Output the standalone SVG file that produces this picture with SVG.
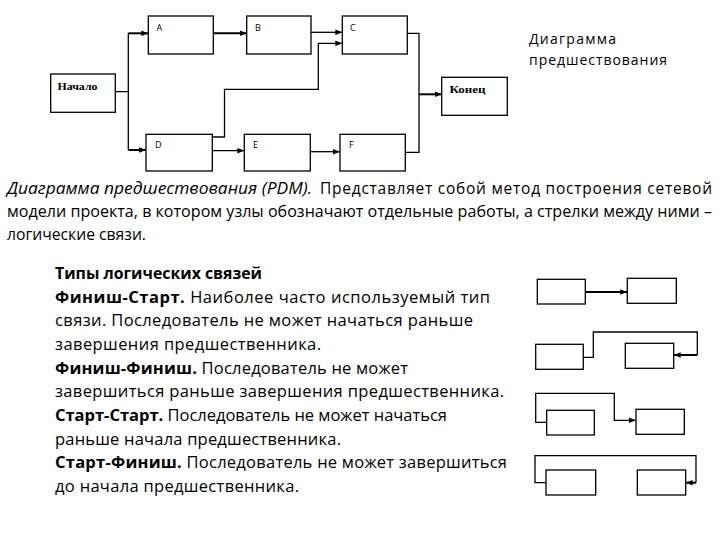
<svg xmlns="http://www.w3.org/2000/svg" width="720" height="540" viewBox="0 0 720 540">
<defs>
<style>
.box{fill:#fff;stroke:#000;stroke-width:1.3}
.ln{fill:none;stroke:#000;stroke-width:1.3}
.thk{fill:none;stroke:#000;stroke-width:2}
.lbl{font-family:"Open Sans","DejaVu Sans",sans-serif;font-size:9px;fill:#000}
.ser{font-family:"Liberation Serif","Times New Roman",serif;font-weight:bold;font-size:11px;fill:#000}
.par{font-family:"Open Sans","Liberation Sans",sans-serif;font-size:15.5px;fill:#000}
.bt{font-family:"Open Sans","Liberation Sans",sans-serif;font-size:16.5px;fill:#000}
.b{font-weight:bold}
.ttl{font-family:"Open Sans","Liberation Sans",sans-serif;font-size:14px;fill:#000}
</style>
<marker id="arr" viewBox="0 0 10 10" refX="10" refY="5" markerWidth="7" markerHeight="7" markerUnits="userSpaceOnUse" orient="auto">
<path d="M0,1 L10,5 L0,9 z" fill="#000"/>
</marker>
</defs>

<g id="connectors">
<path class="ln" d="M115.3,91.7 H128.3 M128.3,33.3 V150"/>
<path class="thk" d="M128.3,33.3 H148.3" marker-end="url(#arr)"/>
<path class="thk" d="M128.3,150 H146" marker-end="url(#arr)"/>
<path class="thk" d="M213.3,33.3 H246.7" marker-end="url(#arr)"/>
<path class="ln" d="M311,32.3 H342.3" marker-end="url(#arr)"/>
<path class="ln" d="M212.3,137 H224.5 V89.3 H318.3 V43.3 H342.3" marker-end="url(#arr)"/>
<path class="ln" d="M212.3,150.7 H244.3" marker-end="url(#arr)"/>
<path class="ln" d="M310.3,151.7 H340" marker-end="url(#arr)"/>
<path class="ln" d="M407.3,33.3 H419 V152.3 H405.3"/>
<path class="thk" d="M419,94.3 H441.7" marker-end="url(#arr)"/>

<path class="thk" d="M585.3,292 H627.3" marker-end="url(#arr)"/>
<path class="ln" d="M583.3,357.3 H593.3 V332 H697.3 V355"/>
<path class="thk" d="M697.3,355 H673.7" marker-end="url(#arr)"/>
<path class="ln" d="M546.7,422.3 H535.7 V393.3 H614.3 V420.3 H636" marker-end="url(#arr)"/>
<path class="ln" d="M546,482.7 H535 V455.7 H696 V482.7"/>
<path class="thk" d="M696,482.7 H685.7" marker-end="url(#arr)"/>
</g>

<g id="nachalo"><rect class="box" x="50.7" y="74" width="64.6" height="38.3"/><text class="ser" x="57.5" y="90" textLength="40" lengthAdjust="spacingAndGlyphs">Начало</text></g>
<g id="A"><rect class="box" x="148.3" y="16" width="65" height="38"/><text class="lbl" x="156.5" y="30.5">A</text></g>
<g id="B"><rect class="box" x="246.7" y="16" width="64.3" height="38"/><text class="lbl" x="255" y="30.5">B</text></g>
<g id="C"><rect class="box" x="342.3" y="16" width="65" height="38"/><text class="lbl" x="350" y="30.5">C</text></g>
<g id="D"><rect class="box" x="146" y="134.3" width="66.3" height="36.7"/><text class="lbl" x="155" y="147.5">D</text></g>
<g id="E"><rect class="box" x="244.3" y="134.3" width="66" height="36.7"/><text class="lbl" x="253" y="147.5">E</text></g>
<g id="F"><rect class="box" x="340" y="134.3" width="65.3" height="36.7"/><text class="lbl" x="349" y="147.5">F</text></g>
<g id="konec"><rect class="box" x="441.7" y="77.3" width="65.6" height="38"/><text class="ser" x="449.5" y="92.5" textLength="36" lengthAdjust="spacingAndGlyphs">Конец</text></g>

<g id="title">
<text class="ttl" x="529" y="44.3" textLength="87" lengthAdjust="spacing">Диаграмма</text>
<text class="ttl" x="529" y="65" textLength="138" lengthAdjust="spacing">предшествования</text>
</g>

<g id="paragraph">
<text class="par" x="7" y="194" font-style="italic" textLength="305" lengthAdjust="spacingAndGlyphs">Диаграмма предшествования (PDM).</text>
<text class="par" x="320" y="194" textLength="392" lengthAdjust="spacing">Представляет собой метод построения сетевой</text>
<text class="par" x="7" y="217" textLength="705" lengthAdjust="spacingAndGlyphs">модели проекта, в котором узлы обозначают отдельные работы, а стрелки между ними –</text>
<text class="par" x="7" y="240" textLength="139" lengthAdjust="spacingAndGlyphs">логические связи.</text>
</g>

<g id="types">
<text class="bt b" x="55" y="279" textLength="207" lengthAdjust="spacingAndGlyphs">Типы логических связей</text>
<text class="bt" x="55" y="302.7" textLength="435" lengthAdjust="spacing"><tspan class="b">Финиш-Старт.</tspan> Наиболее часто используемый тип</text>
<text class="bt" x="55" y="326.3" textLength="418" lengthAdjust="spacing">связи. Последователь не может начаться раньше</text>
<text class="bt" x="55" y="350" textLength="266" lengthAdjust="spacing">завершения предшественника.</text>
<text class="bt" x="55" y="373.6" textLength="353" lengthAdjust="spacing"><tspan class="b">Финиш-Финиш.</tspan> Последователь не может</text>
<text class="bt" x="55" y="397.3" textLength="449" lengthAdjust="spacing">завершиться раньше завершения предшественника.</text>
<text class="bt" x="55" y="421" textLength="392" lengthAdjust="spacing"><tspan class="b">Старт-Старт.</tspan> Последователь не может начаться</text>
<text class="bt" x="55" y="444.6" textLength="286" lengthAdjust="spacing">раньше начала предшественника.</text>
<text class="bt" x="55" y="468.3" textLength="452" lengthAdjust="spacing"><tspan class="b">Старт-Финиш.</tspan> Последователь не может завершиться</text>
<text class="bt" x="55" y="492" textLength="244" lengthAdjust="spacing">до начала предшественника.</text>
</g>

<g id="fs1"><rect class="box" x="537.3" y="279.3" width="48" height="24.7"/></g>
<g id="fs2"><rect class="box" x="627.3" y="278.3" width="49" height="25"/></g>
<g id="ff1"><rect class="box" x="535.7" y="344.3" width="47.6" height="25"/></g>
<g id="ff2"><rect class="box" x="625.3" y="343.3" width="48.4" height="25"/></g>
<g id="ss1"><rect class="box" x="546.7" y="410.3" width="47.6" height="24.7"/></g>
<g id="ss2"><rect class="box" x="636" y="409.3" width="48.3" height="25"/></g>
<g id="sf1"><rect class="box" x="546" y="470" width="49.7" height="25"/></g>
<g id="sf2"><rect class="box" x="637.3" y="470" width="48.4" height="25"/></g>
</svg>
